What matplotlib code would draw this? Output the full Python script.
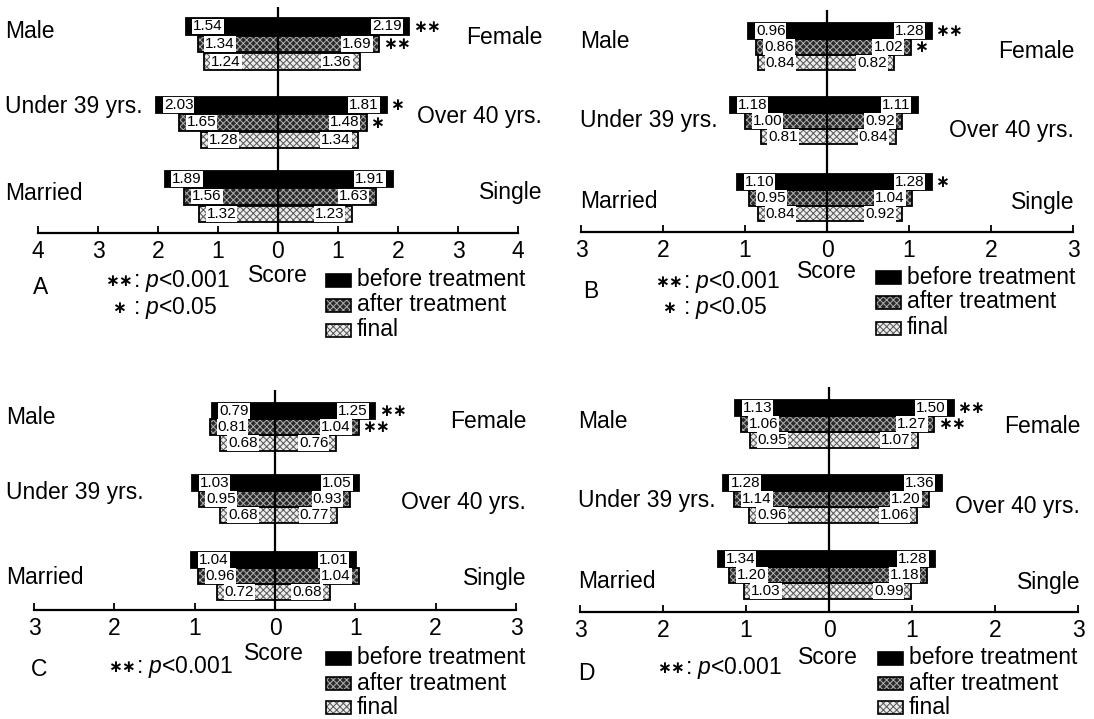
import matplotlib
matplotlib.use("Agg")
import matplotlib.pyplot as plt
from matplotlib.patches import Rectangle

plt.rcParams['font.family'] = ['Liberation Sans', 'DejaVu Sans']
plt.rcParams['mathtext.fontset'] = 'custom'
plt.rcParams['mathtext.it'] = 'Liberation Sans:italic'
plt.rcParams['mathtext.rm'] = 'Liberation Sans'
plt.rcParams['hatch.linewidth'] = 0.7

# ---------------- data ----------------
left_groups = ["Male", "Under 39 yrs.", "Married"]
right_groups = ["Female", "Over 40 yrs.", "Single"]
series_names = ["before treatment", "after treatment", "final"]

a_before_left = [1.54, 2.03, 1.89]
a_before_right = [2.19, 1.81, 1.91]
a_after_left = [1.34, 1.65, 1.56]
a_after_right = [1.69, 1.48, 1.63]
a_final_left = [1.24, 1.28, 1.32]
a_final_right = [1.36, 1.34, 1.23]
a_stars_before = ["**", "*", ""]
a_stars_after = ["**", "*", ""]

b_before_left = [0.96, 1.18, 1.10]
b_before_right = [1.28, 1.11, 1.28]
b_after_left = [0.86, 1.00, 0.95]
b_after_right = [1.02, 0.92, 1.04]
b_final_left = [0.84, 0.81, 0.84]
b_final_right = [0.82, 0.84, 0.92]
b_stars_before = ["**", "", "*"]
b_stars_after = ["*", "", ""]

c_before_left = [0.79, 1.03, 1.04]
c_before_right = [1.25, 1.05, 1.01]
c_after_left = [0.81, 0.95, 0.96]
c_after_right = [1.04, 0.93, 1.04]
c_final_left = [0.68, 0.68, 0.72]
c_final_right = [0.76, 0.77, 0.68]
c_stars_before = ["**", "", ""]
c_stars_after = ["**", "", ""]

d_before_left = [1.13, 1.28, 1.34]
d_before_right = [1.50, 1.36, 1.28]
d_after_left = [1.06, 1.14, 1.20]
d_after_right = [1.27, 1.20, 1.18]
d_final_left = [0.95, 0.96, 1.03]
d_final_right = [1.07, 1.06, 0.99]
d_stars_before = ["**", "", ""]
d_stars_after = ["**", "", ""]

panel_letters = ["A", "B", "C", "D"]
sig_stars_ab = ["**", "*"]
sig_text_ab = [": $p$<0.001", ": $p$<0.05"]
sig_stars_cd = ["**"]
sig_text_cd = [": $p$<0.001"]

# ---------------- styles ----------------
W, H = 1094, 719
styles = [
    dict(facecolor="black", hatch=None, hcolor="black"),
    dict(facecolor="#2a2a2a", hatch="xxxxx", hcolor="#b0b0b0"),
    dict(facecolor="#ececec", hatch="xxxxx", hcolor="#555555"),
]
STAR = "\u2217"

fig = plt.figure(figsize=(W / 100, H / 100), dpi=100)
fig.patch.set_facecolor("white")


def fx(px):
    return px / W


def fy(py):
    return 1 - py / H


panels = [
    dict(data=(a_before_left, a_before_right, a_after_left, a_after_right, a_final_left, a_final_right),
         stars=(a_stars_before, a_stars_after), m=4, x0=38, x1=518, top=7, axis=233,
         gy=[26.5, 105, 179], step=17.5, bh=16.5,
         lx=5, ly=[32, 106, 193], rx=542, ry=[37, 117, 193],
         score=(278, 275), letter=(33, 288), sig=(109, [281, 308], sig_stars_ab, sig_text_ab),
         leg=(326, [280, 305, 330])),
    dict(data=(b_before_left, b_before_right, b_after_left, b_after_right, b_final_left, b_final_right),
         stars=(b_stars_before, b_stars_after), m=3, x0=581, x1=1073, top=10, axis=232,
         gy=[31, 105, 182], step=15.8, bh=15.5,
         lx=580, ly=[42, 120, 202], rx=1074, ry=[52, 130, 202],
         score=(827, 272), letter=(583, 291), sig=(659, [282, 308], sig_stars_ab, sig_text_ab),
         leg=(876, [277, 302, 328])),
    dict(data=(c_before_left, c_before_right, c_after_left, c_after_right, c_final_left, c_final_right),
         stars=(c_stars_before, c_stars_after), m=3, x0=34, x1=516, top=390, axis=610,
         gy=[411, 483, 560], step=16, bh=15.5,
         lx=6, ly=[417, 493, 577], rx=526, ry=[422, 503, 579],
         score=(274, 654), letter=(31, 670), sig=(112, [667], sig_stars_cd, sig_text_cd),
         leg=(326, [658, 683, 707])),
    dict(data=(d_before_left, d_before_right, d_after_left, d_after_right, d_final_left, d_final_right),
         stars=(d_stars_before, d_stars_after), m=3, x0=580, x1=1078, top=387, axis=612,
         gy=[408, 483, 559], step=16, bh=15.5,
         lx=578, ly=[422, 501, 582], rx=1080, ry=[427, 507, 582],
         score=(828, 657), letter=(578, 673), sig=(661, [668], sig_stars_cd, sig_text_cd),
         leg=(878, [658, 683, 707])),
]

big = 16.5
for p, letter in zip(panels, panel_letters):
    ax = fig.add_axes([fx(p["x0"]), fy(p["axis"]), fx(p["x1"] - p["x0"]), (p["axis"] - p["top"]) / H])
    ax.set_xlim(-p["m"], p["m"])
    ax.set_ylim(p["axis"], p["top"])
    ax.patch.set_alpha(0)
    for s in ("left", "right", "top"):
        ax.spines[s].set_visible(False)
    ax.spines["bottom"].set_linewidth(1.6)
    ax.set_yticks([])
    ticks = list(range(-p["m"], p["m"] + 1))
    ax.set_xticks(ticks)
    ax.set_xticklabels([str(abs(t)) for t in ticks], fontsize=big)
    ax.tick_params(axis="x", direction="in", length=5, width=1.3, pad=5)
    ax.axvline(0, color="black", lw=1.6, zorder=5)

    vals = p["data"]
    for j in range(3):
        left = vals[2 * j]
        right = vals[2 * j + 1]
        st = styles[j]
        ys = [g + j * p["step"] for g in p["gy"]]
        for side_vals, sign in ((left, -1), (right, 1)):
            widths = [sign * v for v in side_vals]
            ax.barh(ys, widths, height=p["bh"], left=0, color=st["facecolor"],
                    edgecolor=st["hcolor"], hatch=st["hatch"], linewidth=0, zorder=2)
            ax.barh(ys, widths, height=p["bh"], left=0, fill=False,
                    edgecolor="black", linewidth=1.3, zorder=3)
            for v, y in zip(side_vals, ys):
                ax.annotate(f"{v:.2f}", xy=(sign * v, y), xytext=(-sign * 5.5, 0),
                            textcoords="offset points", ha="left" if sign < 0 else "right",
                            va="center", fontsize=11, zorder=6,
                            bbox=dict(boxstyle="square,pad=0.06", fc="white", ec="none"))
        if j < 2:
            for s_txt, v, y in zip(p["stars"][j], right, ys):
                if s_txt:
                    ax.annotate(s_txt.replace("*", STAR), xy=(v, y), xytext=(2.5, 0),
                                textcoords="offset points", ha="left", va="center",
                                fontsize=12, fontweight="bold", family="DejaVu Sans")

    for name, y in zip(left_groups, p["ly"]):
        fig.text(fx(p["lx"]), fy(y), name, ha="left", va="center", fontsize=big)
    for name, y in zip(right_groups, p["ry"]):
        fig.text(fx(p["rx"]), fy(y), name, ha="right", va="center", fontsize=big)

    fig.text(fx(p["score"][0]), fy(p["score"][1]), "Score", ha="center", va="center", fontsize=big)
    fig.text(fx(p["letter"][0]), fy(p["letter"][1]), letter, ha="left", va="center", fontsize=big)
    sx, sys_, stars_l, texts_l = p["sig"]
    for st_txt, txt, y in zip(stars_l, texts_l, sys_):
        fig.text(fx(sx + 10), fy(y), st_txt.replace("*", STAR), ha="center", va="center",
                 fontsize=12, fontweight="bold", family="DejaVu Sans")
        fig.text(fx(sx + 24), fy(y), txt, ha="left", va="center", fontsize=big)

    lgx, lgys = p["leg"]
    for j, (name, y) in enumerate(zip(series_names, lgys)):
        st = styles[j]
        fig.add_artist(Rectangle((fx(lgx), fy(y + 6.5)), fx(25), 13 / H, transform=fig.transFigure,
                                 facecolor=st["facecolor"], edgecolor=st["hcolor"],
                                 hatch=st["hatch"], linewidth=0))
        fig.add_artist(Rectangle((fx(lgx), fy(y + 6.5)), fx(25), 13 / H, transform=fig.transFigure,
                                 fill=False, edgecolor="black", linewidth=1.2))
        fig.text(fx(lgx + 31), fy(y), name, ha="left", va="center", fontsize=big)

fig.savefig("out.png", dpi=100, facecolor="white")
